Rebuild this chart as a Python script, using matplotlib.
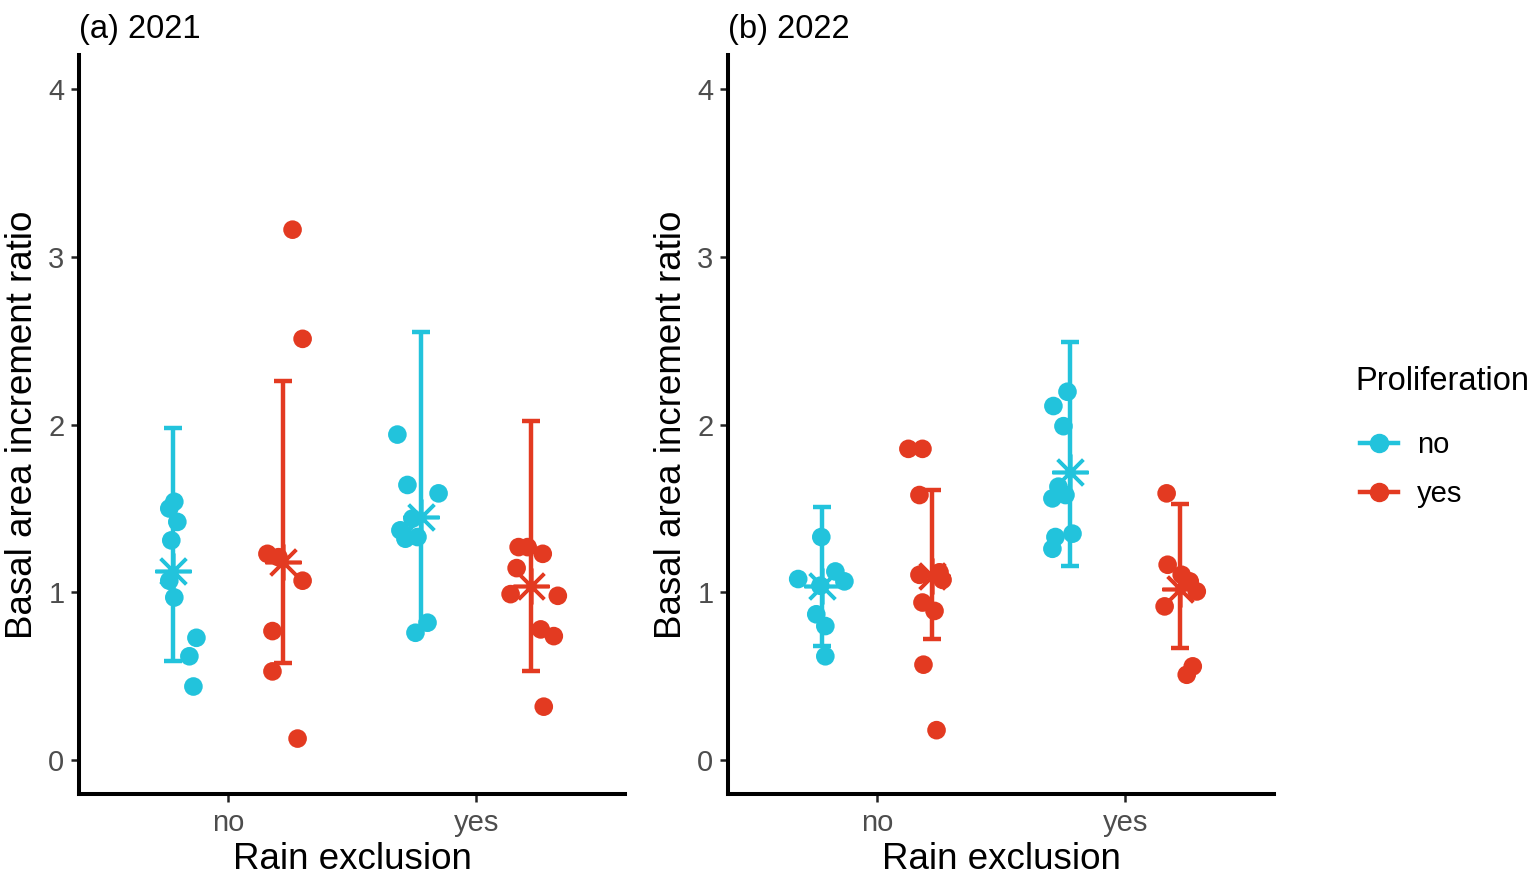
import numpy as np
import matplotlib.pyplot as plt
from matplotlib.lines import Line2D

plt.rcParams['font.family'] = ['Liberation Sans', 'DejaVu Sans']

# groups: panel (year) x rain exclusion x proliferation
titles = ['(a) 2021', '(b) 2022']
rain_levels = ['no', 'yes']
prolif_levels = ['no', 'yes']
colors = {'no': '#22C3DC', 'yes': '#E33A21'}

# basal area increment ratio, per panel -> rain -> proliferation
vals_2021_no_no = [1.54, 1.50, 1.42, 1.31, 1.07, 0.97, 0.73, 0.62, 0.44]
vals_2021_no_yes = [3.16, 2.51, 1.23, 1.21, 1.07, 0.77, 0.53, 0.13]
vals_2021_yes_no = [1.94, 1.64, 1.59, 1.44, 1.37, 1.33, 1.32, 0.82, 0.76]
vals_2021_yes_yes = [1.27, 1.27, 1.23, 1.145, 0.99, 0.98, 0.78, 0.74, 0.32]
vals_2022_no_no = [1.33, 1.125, 1.08, 1.066, 1.04, 0.87, 0.80, 0.62]
vals_2022_no_yes = [1.855, 1.855, 1.58, 1.105, 1.075, 1.12, 0.94, 0.89, 0.57, 0.18]
vals_2022_yes_no = [2.195, 2.11, 1.99, 1.63, 1.56, 1.58, 1.35, 1.33, 1.26]
vals_2022_yes_yes = [1.59, 1.165, 1.105, 1.066, 1.006, 0.917, 0.56, 0.51]

# horizontal jitter (pixels from group centre)
jit_2021_no_no = [1, -4, 4, -2, -4, 1, 23, 16, 20]
jit_2021_no_yes = [10, 20, -15, -4, 20, -10, -10, 15]
jit_2021_yes_no = [-24, -14, 17, -9, -21, -4, -16, 6, -6]
jit_2021_yes_yes = [-12, -3, 12, -14, -20, 27, 10, 23, 13]
jit_2022_no_no = [-1, 13, -24, 22, -2, -6, 3, 3]
jit_2022_no_yes = [-23, -9, -12, -12, 11, 8, -9, 3, -8, 5]
jit_2022_yes_no = [-3, -17, -7, -12, -18, -5, 2, -15, -18]
jit_2022_yes_yes = [-13, -12, 2, 10, 17, -15, 13, 7]

# summary: centre (asterisk), lower and upper error bar ends
mean_2021 = [[1.13, 1.18], [1.45, 1.04]]
low_2021 = [[0.59, 0.58], [0.78, 0.535]]
high_2021 = [[1.98, 2.26], [2.55, 2.02]]
mean_2022 = [[1.04, 1.10], [1.72, 1.02]]
low_2022 = [[0.68, 0.725], [1.16, 0.67]]
high_2022 = [[1.51, 1.61], [2.49, 1.525]]

panels = [
    ([[vals_2021_no_no, vals_2021_no_yes], [vals_2021_yes_no, vals_2021_yes_yes]],
     [[jit_2021_no_no, jit_2021_no_yes], [jit_2021_yes_no, jit_2021_yes_yes]],
     mean_2021, low_2021, high_2021),
    ([[vals_2022_no_no, vals_2022_no_yes], [vals_2022_yes_no, vals_2022_yes_yes]],
     [[jit_2022_no_no, jit_2022_no_yes], [jit_2022_yes_no, jit_2022_yes_yes]],
     mean_2022, low_2022, high_2022),
]

W, H = 1535, 881
fig = plt.figure(figsize=(W / 100, H / 100), dpi=100)
px_per_unit = 247.0
dodge = [-0.22, 0.22]
lefts = [79, 728]

for p, (vals, jits, mean, low, high) in enumerate(panels):
    ax = fig.add_axes([lefts[p] / W, 1 - 794 / H, 546 / W, 739 / H])
    for i, rain in enumerate(rain_levels):
        for j, pro in enumerate(prolif_levels):
            c = colors[pro]
            xc = i + 1 + dodge[j]
            m, lo, hi = mean[i][j], low[i][j], high[i][j]
            ax.errorbar([xc], [m], yerr=[[m - lo], [hi - m]], fmt='none', ecolor=c,
                        elinewidth=3.2, capsize=6.5, capthick=3.2, zorder=2)
            ax.plot([xc], [m], marker=(8, 2, 0), markersize=26, markeredgewidth=2.6,
                    color=c, linestyle='none', zorder=3)
            xs = xc + np.array(jits[i][j]) / px_per_unit
            ax.scatter(xs, vals[i][j], s=180, color=c, edgecolors='none', zorder=4)
    ax.set_xlim(0.4, 2.6)
    ax.set_ylim(-0.2, 4.2)
    ax.set_xticks([1, 2])
    ax.set_xticklabels(rain_levels)
    ax.set_yticks([0, 1, 2, 3, 4])
    for s in ['top', 'right']:
        ax.spines[s].set_visible(False)
    for s in ['left', 'bottom']:
        ax.spines[s].set_linewidth(2.9)
    ax.tick_params(length=5.5, width=1.8, color='#222222', labelcolor='#4D4D4D',
                   labelsize=21, pad=5)
    ax.set_xlabel('Rain exclusion', fontsize=26.5, labelpad=4)
    ax.set_ylabel('Basal area increment ratio', fontsize=26.5, labelpad=6)
    ax.set_title(titles[p], fontsize=23.5, loc='left', x=0.0, pad=12)

fig.text(1355 / W, 1 - 382 / H, 'Proliferation', fontsize=23.5, va='center', ha='left')
handles = [Line2D([0], [0], color=colors[k], lw=3.2, marker='o', markersize=13)
           for k in prolif_levels]
leg = fig.legend(handles, prolif_levels, loc='upper left',
                 bbox_to_anchor=(1360 / W, 1 - 431 / H), frameon=False, fontsize=21,
                 handlelength=1.3, handletextpad=0.65, labelspacing=0.72,
                 borderpad=0, borderaxespad=0)

fig.savefig('out.png', dpi=100)
